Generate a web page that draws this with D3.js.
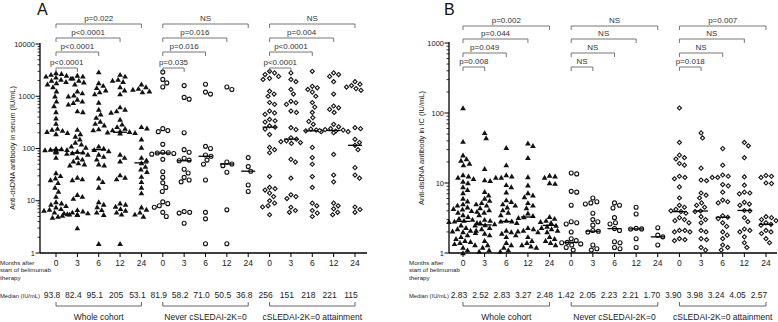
<!DOCTYPE html>
<html><head><meta charset="utf-8">
<script src="https://cdn.jsdelivr.net/npm/d3@7"></script>
<style>body{margin:0;background:#fff} svg{display:block} text{font-family:"Liberation Sans",Arial,Helvetica,sans-serif}</style>
</head><body><svg id="c" width="778" height="322"></svg>
<script>
const months = ["0","3","6","12","24"];
const groups = ["Whole cohort","Never cSLEDAI-2K=0","cSLEDAI-2K=0 attainment"];
const medianA = ["93.8","82.4","95.1","205","53.1","81.9","58.2","71.0","50.5","36.8","256","151","218","221","115"];
const medianB = ["2.83","2.52","2.83","3.27","2.48","1.42","2.05","2.23","2.21","1.70","3.90","3.98","3.24","4.05","2.57"];
const ticksA = [1,10,100,1000,10000];
const ticksB = [1,10,100,1000];
const pA = [["p<0.0001","p<0.0001","p<0.0001","p=0.022"],["p=0.035","p=0.016","p=0.016","NS"],["p<0.0001","p<0.0001","p=0.004","NS"]];
const pB = [["p=0.008","p=0.049","p=0.044","p=0.002"],["NS","NS","NS","NS"],["p=0.018","NS","NS","p=0.007"]];

// Panel A: serum anti-dsDNA (IU/mL)
const serumWhole = [
 [2800,2700,2600,2500,2400,2300,2200,2100,2000,1900,1800,1700,1500,1250,1000,800,650,500,380,300,240,230,220,210,200,190,100,98,96,95,94,93,92,90,88,85,67,34,30,27,25,22,18,15,12,9.5,9,8.5,8,7.5,7,6.8,6.5,6,5.8,5.5,5,4.8],
 [2500,2400,2200,2000,1850,1700,1250,1150,1050,1000,870,800,750,700,520,500,230,190,170,150,130,120,110,105,88,85,82.4,80,77,67,62,57,53,50,48,28,26,25,13,12,11,6.7,6.3,6,5.8,5.6,5.5,5.4,5.2,3],
 [2900,1800,1600,1450,1300,1200,1100,760,560,450,390,330,300,280,235,225,110,100,95.1,90,77,70,62,50,48,27,23,18,9.5,8.5,7.6,6.7,6,5.4,1.5],
 [2600,2400,2100,2000,1900,1500,1300,1100,620,560,520,490,360,290,260,240,225,215,210,205,200,195,77,67,57,31,28,26,9,8.5,7.8,7,6.5,6,5.5,1.5],
 [1700,1500,1400,1350,1250,1200,260,245,150,105,67,60,53,45,40,36,29,23,18,14,7.5,6.8,6,5.5,5]
];
const serumNever = [
 [2900,2100,1800,1500,240,220,210,120,85,83,81.9,80,78,62,36,28,22,18,15,9.5,8.8,8,7.5,6,5],
 [1600,950,880,200,95,85,65,60,58.2,40,34,28,25,23,6.2,6,5.8,3.7],
 [1700,1200,1100,110,100,75,71,60,50,25,6,4.5,1.5],
 [1500,1350,55,50.5,47,35,6.7,1.5],
 [67,45,36.8,20,15]
];
const serumAttain = [
 [3000,2800,2600,2400,2200,2100,1250,1100,1000,760,700,520,480,450,360,340,320,270,256,235,185,105,95,83,29,18,17,16,14,12,10,9,8,7.6,5.4],
 [2800,2100,1900,1350,1100,800,750,700,520,490,250,230,160,151,140,135,130,125,62,55,27,13,12,11,7.5,6.5,6],
 [3000,1550,1450,1350,1200,1000,760,620,490,390,330,290,235,225,218,210,105,67,50,29,18,9,8,6.5,5.8,5],
 [2800,2600,2400,1900,1100,650,600,560,490,290,260,240,230,225,221,215,210,200,77,31,23,9,8,7,6,5.4],
 [1900,1700,1600,1500,1400,1300,250,240,150,130,115,95,43,31,27,7.6,6.8,6]
];
// Panel B: anti-dsDNA in immune complexes (IU/mL)
const icWhole = [
 [118,39,25,22,21,19,18,13,12.5,12,11.5,10.5,10,8.8,8,7.2,6,5.5,5,4.8,4.5,4.3,4.2,4,3.9,3.8,3.5,3.3,3.1,3,2.9,2.83,2.8,2.7,2.5,2.3,2.2,2.1,2.05,2,1.95,1.8,1.7,1.6,1.5,1.45,1.4,1.35,1.3,1.2,1.1,1.0],
 [52,44,16,11,10.8,7.5,6.7,6,5.6,5.2,5,4.8,4.4,4.1,3.8,3.5,3,2.9,2.7,2.6,2.52,2.5,2.3,2.2,2.1,1.9,1.8,1.5,1.3,1.2,1.1,1.05],
 [32,18,13,12.5,12,12,9.4,8.8,7.4,5.7,5.4,5,4.8,4.5,4.1,3.8,3.5,2.9,2.85,2.83,2.7,2.1,2,1.9,1.8,1.7,1.4,1.3,1.2,1.1,1.05],
 [37,34,23,12.2,9.3,7.2,6.7,6.3,5.2,4.8,4.4,3.7,3.4,3.27,3.2,2.3,2.2,2.1,2.05,2,1.7,1.5,1.4,1.3,1.25,1.2],
 [12.8,12.5,12,10,9.8,3.3,3.1,2.9,2.8,2.7,2.48,2.4,2.3,2.2,2.1,2,1.7,1.6,1.5,1.4,1.3]
];
const icNever = [
 [13.9,13.5,7.6,7.4,4.8,2.8,2.7,2.6,2,1.6,1.5,1.42,1.4,1.35,1.3,1.2,1.1],
 [6.1,5.4,5.2,5,3.7,3,2.8,2.5,2.1,2.05,2,1.3,1.15,1.1],
 [5.2,4.8,4.4,3.2,2.7,2.6,2.23,2.1,1.45,1.4,1.2,1.15],
 [4.5,3.6,2.25,2.21,2.2,1.6,1.2],
 [2.3,1.8,1.7,1.3]
];
const icAttain = [
 [118,38,25,23,22,19,18,12.5,12,11.5,8.8,6.1,4.8,4.5,4.2,4,3.9,3.7,3.2,3,2.9,2.7,2.1,2.1,2,2,1.6,1.55,1.5],
 [52,44,16.3,11,10.8,7.2,6.7,6.1,5.2,4.8,4.5,3.98,3.9,3.3,3,2.7,2.1,2,1.6,1.55,1.2,1.1],
 [31,18,13,12.5,12,12,9.5,9.1,7.4,5.7,5.4,5.2,3.4,3.24,3.1,2.7,2.4,2,1.8,1.6,1.3,1.2,1.1],
 [38,34,23,12.2,9.3,7.4,7.2,7,5.3,5,4.8,4.05,4,3.2,2.8,2.2,2.1,2,1.7,1.4,1.2],
 [12.8,12.5,12,10,9.8,3.3,3.2,3,2.9,2.7,2.57,2.5,2.1,2,1.9,1.6,1.4]
];

const svg = d3.select("#c");

function swarm(vals, y, cx, d){
  const pts = vals.map(v=>({v, y:y(v)})).sort((a,b)=>a.y-b.y);
  const placed = [];
  const offs = [0];
  for (let k=1;k<=30;k++){ offs.push(k*0.5, -k*0.5); }
  for (const p of pts){
    for (const o of offs){
      const x = cx + o;
      if (placed.every(q => (q.x-x)*(q.x-x)+(q.y-p.y)*(q.y-p.y) >= d*d)){ p.x = x; break; }
    }
    if (p.x===undefined) p.x = cx;
    placed.push(p);
  }
  return pts;
}

function panel(cfg){
  const g = svg.append("g");
  const cats = d3.range(15);
  const x = d3.scalePoint().domain(cats).range(cfg.xr);
  const xm = d3.scalePoint().domain(cats).range(cfg.xmr);
  const y = d3.scaleLog().domain(cfg.yd).range([253, cfg.ytop]);
  // axes
  g.append("line").attr("x1",cfg.ax).attr("x2",cfg.ax).attr("y1",253).attr("y2",cfg.ytop-1).attr("stroke","#000").attr("stroke-width",1.3);
  g.append("line").attr("x1",cfg.ax).attr("x2",cfg.xend).attr("y1",253).attr("y2",253).attr("stroke","#000").attr("stroke-width",1.3);
  const [lo,hi] = cfg.yd;
  for (let dec=lo; dec<hi; dec*=10){
    for (let m=2;m<=9;m++){
      g.append("line").attr("x1",cfg.ax-2.5).attr("x2",cfg.ax).attr("y1",y(dec*m)).attr("y2",y(dec*m)).attr("stroke","#000").attr("stroke-width",0.8);
    }
  }
  cfg.ticks.forEach(t=>{
    g.append("line").attr("x1",cfg.ax-4.5).attr("x2",cfg.ax).attr("y1",y(t)).attr("y2",y(t)).attr("stroke","#000").attr("stroke-width",1);
    g.append("text").attr("x",cfg.ax-5).attr("y",y(t)+2.6).attr("text-anchor","end").attr("font-size",7.5).attr("fill","#222").text(t);
  });
  cats.forEach(i=>{
    g.append("line").attr("x1",x(i)).attr("x2",x(i)).attr("y1",253).attr("y2",257).attr("stroke","#000").attr("stroke-width",1);
    g.append("text").attr("x",x(i)).attr("y",266).attr("text-anchor","middle").attr("font-size",8.5).attr("fill","#222").text(months[i%5]);
    g.append("text").attr("x",xm(i)).attr("y",298).attr("text-anchor","middle").attr("font-size",8.5).attr("fill","#222").text(cfg.med[i]);
  });
  // y title
  g.append("text").attr("transform",`translate(${cfg.titleX},148) rotate(-90)`).attr("text-anchor","middle").attr("font-size",cfg.titleFs).attr("fill","#222").text(cfg.title);
  // left labels
  ["Months after","start of belimumab","therapy"].forEach((s,k)=>{
    g.append("text").attr("x",cfg.lx).attr("y",264.5+k*7.5).attr("font-size",6.2).attr("fill","#222").text(s);
  });
  g.append("text").attr("x",cfg.lx).attr("y",297.5).attr("font-size",5.8).attr("fill","#222").text("Median (IU/mL)");
  // panel letter
  g.append("text").attr("x",cfg.letterX).attr("y",15).attr("font-size",16).attr("fill","#111").text(cfg.letter);
  // data
  cfg.data.forEach((grp,gi)=>{
    grp.forEach((vals,mi)=>{
      const i = gi*5+mi;
      const pts = swarm(vals, y, x(i), 5.2);
      const sel = g.append("g");
      pts.forEach(p=>{
        if (gi===0){
          sel.append("path").attr("d",d3.symbol(d3.symbolTriangle,14)()).attr("transform",`translate(${p.x},${p.y+0.6})`).attr("fill","#111");
        } else if (gi===1){
          sel.append("circle").attr("cx",p.x).attr("cy",p.y).attr("r",2).attr("fill","#fff").attr("stroke","#111").attr("stroke-width",1.1);
        } else {
          sel.append("path").attr("d",d3.symbol(d3.symbolSquare,8.5)()).attr("transform",`translate(${p.x},${p.y}) rotate(45)`).attr("fill","#fff").attr("stroke","#111").attr("stroke-width",1.1);
        }
      });
      const mv = +cfg.med[i];
      g.append("line").attr("x1",x(i)-7).attr("x2",x(i)+7).attr("y1",y(mv)).attr("y2",y(mv)).attr("stroke","#000").attr("stroke-width",1.3);
    });
  });
  // significance brackets
  cfg.p.forEach((labels,gi)=>{
    labels.forEach((lab,k)=>{
      const x1 = x(gi*5), x2 = x(gi*5+k+1), yy = cfg.by[k];
      g.append("path").attr("d",`M${x1},${yy+4}V${yy}H${x2}V${yy+4}`).attr("fill","none").attr("stroke","#666").attr("stroke-width",0.9);
      g.append("text").attr("x",(x1+x2)/2).attr("y",yy-3).attr("text-anchor","middle").attr("font-size",8).attr("fill","#333").text(lab);
    });
  });
  // group brackets
  groups.forEach((name,gi)=>{
    const x1 = x(gi*5), x2 = x(gi*5+4);
    g.append("path").attr("d",`M${x1},302V306H${x2}V302`).attr("fill","none").attr("stroke","#555").attr("stroke-width",0.9);
    g.append("text").attr("x",(x1+x2)/2).attr("y",319.5).attr("text-anchor","middle").attr("font-size",8.5).attr("fill","#222").text(name);
  });
}

panel({letter:"A", letterX:37, ax:40, xend:367, xr:[56,355], xmr:[52,351], yd:[1,10000], ytop:44, ticks:ticksA,
  med:medianA, title:"Anti-dsDNA antibody in serum (IU/mL)", titleX:15, titleFs:7.3, lx:0,
  data:[serumWhole,serumNever,serumAttain], p:pA, by:[68,52,38,24]});
panel({letter:"B", letterX:444, ax:449, xend:777, xr:[463,766], xmr:[459,759], yd:[1,1000], ytop:43, ticks:ticksB,
  med:medianB, title:"Anti-dsDNA antibody in IC (IU/mL)", titleX:424, titleFs:7.5, lx:409,
  data:[icWhole,icNever,icAttain], p:pB, by:[67,53,39,26]});
</script></body></html>
